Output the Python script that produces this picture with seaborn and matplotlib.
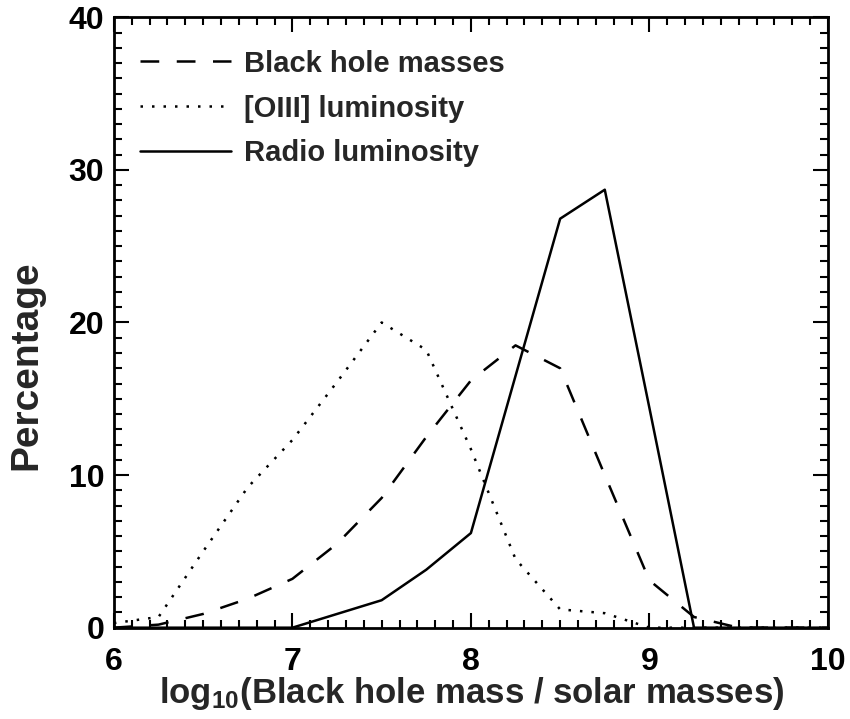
import numpy as np
import matplotlib
matplotlib.use("Agg")
import matplotlib.pyplot as plt
from matplotlib.ticker import MultipleLocator
import pandas as pd
import seaborn as sns

# bin centres in log10(M_BH / M_sun)
LogMass = [6.0, 6.25, 6.5, 6.75, 7.0, 7.25, 7.5, 7.75, 8.0, 8.25, 8.5,
           8.75, 9.0, 9.25, 9.5, 9.75, 10.0]
# percentages
BlackHole = [0.0, 0.2, 0.9, 1.9, 3.2, 5.5, 8.5, 12.5, 16.2, 18.5, 17.0,
             10.0, 3.1, 0.7, 0.0, 0.0, 0.0]
OIII = [0.3, 0.7, 5.0, 9.2, 12.3, 16.1, 20.0, 18.2, 11.7, 4.5, 1.2,
        0.95, 0.0, 0.0, 0.0, 0.0, 0.0]
Radio = [0.0, 0.0, 0.0, 0.0, 0.0, 0.9, 1.8, 3.8, 6.2, 16.5, 26.8,
         28.7, 14.4, 0.0, 0.0, 0.0, 0.0]

Labels = ["Black hole masses", "[OIII] luminosity", "Radio luminosity"]
Series = [BlackHole, OIII, Radio]
Styles = [(0, (7.5, 7)), (0, (1, 3.6)), "-"]

sns.set_style("ticks")
plt.rcParams["font.family"] = ["Liberation Sans", "DejaVu Sans"]
plt.rcParams["font.weight"] = "bold"
plt.rcParams["mathtext.default"] = "regular"

fig = plt.figure(figsize=(8.5, 7.19), dpi=100)
ax = fig.add_axes([0.134, 0.127, 0.84, 0.849])

for Name, Vals, Ls in zip(Labels, Series, Styles):
    df = pd.DataFrame({"x": LogMass, "y": Vals})
    sns.lineplot(data=df, x="x", y="y", ax=ax, color="black", lw=1.8,
                 linestyle=Ls, label=Name)

ax.set_xlim(6, 10)
ax.set_ylim(0, 40)
ax.xaxis.set_major_locator(MultipleLocator(1))
ax.xaxis.set_minor_locator(MultipleLocator(0.1))
ax.yaxis.set_major_locator(MultipleLocator(10))
ax.yaxis.set_minor_locator(MultipleLocator(1))
ax.tick_params(which="both", direction="in", top=True, right=True,
               width=1.5, colors="black")
ax.tick_params(which="major", length=11, labelsize=23)
ax.tick_params(axis="x", which="major", pad=14)
ax.tick_params(axis="y", which="major", pad=7)
ax.tick_params(which="minor", length=6)
for s in ax.spines.values():
    s.set_linewidth(2)
    s.set_color("black")

ax.set_xlabel(r"log$_{10}$(Black hole mass / solar masses)", fontsize=25,
              fontweight="bold")
ax.set_ylabel("Percentage", fontsize=28, fontweight="bold")
ax.xaxis.set_label_coords(0.501, -0.078)
ax.yaxis.set_label_coords(-0.097, 0.43)

leg = ax.legend(loc="upper left", bbox_to_anchor=(0.0, 0.99), frameon=False,
                fontsize=21, handlelength=3.1, handletextpad=0.45,
                labelspacing=0.58)
for t in leg.get_texts():
    t.set_fontweight("bold")

fig.savefig("out.png", dpi=100)
